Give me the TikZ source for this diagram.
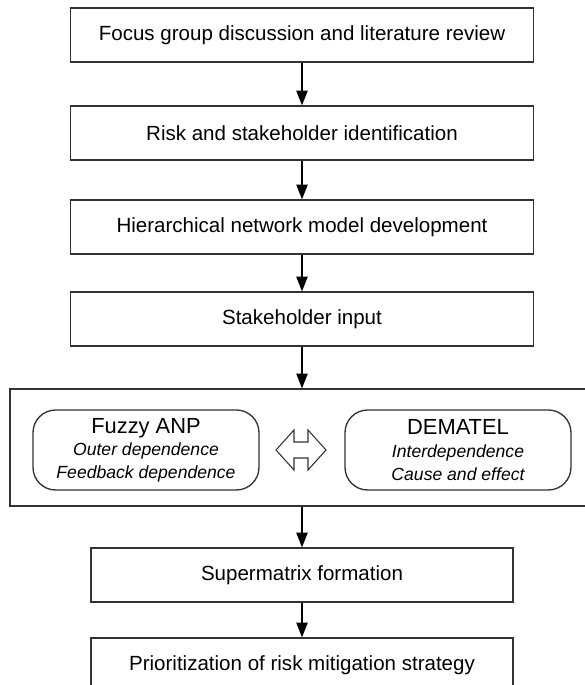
\documentclass[tikz,border=0pt]{standalone}
\usepackage{fontspec}
\setmainfont{Liberation Sans}
\usetikzlibrary{arrows.meta,positioning}

\tikzset{
  stage/.style={draw=black!80,line width=1pt,minimum width=463*0.75pt,minimum height=54*0.75pt,inner sep=0pt,
    font=\fontsize{15.4}{18}\selectfont},
  method/.style={draw=black!80,line width=1pt,rounded corners=17pt,minimum width=226*0.75pt,
    minimum height=80*0.75pt,inner sep=0pt,align=center,font=\fontsize{16.4}{17}\selectfont},
  link/.style={-{Triangle[length=11pt,width=8.5pt]},line width=0.9pt},
}
\newcommand{\note}[1]{{\fontsize{13.2}{17}\selectfont\itshape #1}}

\begin{document}
\begin{tikzpicture}
[x=0.75pt,y=-0.75pt]
\clip (0,0) rectangle (585,685);
\node (focus) at (302,35) [stage] {Focus group discussion and literature review};
\node (risk) at (302,133) [stage] {Risk and stakeholder identification};
\node (model) at (302,227) [stage] {Hierarchical network model development};
\node (input) at (302,319) [stage] {Stakeholder input};
\node (methods) at (302,447.5) [stage,minimum width=584*0.75pt,minimum height=117*0.75pt] {};
\node (anp) at (146,450) [method] {Fuzzy ANP\\ \note{Outer dependence}\\ \note{Feedback dependence}};
\node (dematel) at (458,450) [method] {DEMATEL\\ \note{Interdependence}\\ \note{Cause and effect}};
\node (supermatrix) at (302,575) [stage,minimum width=422*0.75pt] {Supermatrix formation};
\node (priority) at (302,665) [stage,minimum width=422*0.75pt] {Prioritization of risk mitigation strategy};
\coordinate (mid) at (301,450);
% hollow two-headed arrow between the two methods
\draw[draw=black!80,line width=0.8pt,fill=white] (mid) ++(-25,0) -- ++(18,-20) -- ++(0,12) -- ++(14,0)
  -- ++(0,-12) -- ++(18,20) -- ++(-18,20) -- ++(0,-12) -- ++(-14,0) -- ++(0,12) -- cycle;
\draw[link] (focus) -- (risk);
\draw[link] (risk) -- (model);
\draw[link] (model) -- (input);
\draw[link] (input) -- (methods);
\draw[link] (methods) -- (supermatrix);
\draw[link] (supermatrix) -- (priority);
\end{tikzpicture}
\end{document}
